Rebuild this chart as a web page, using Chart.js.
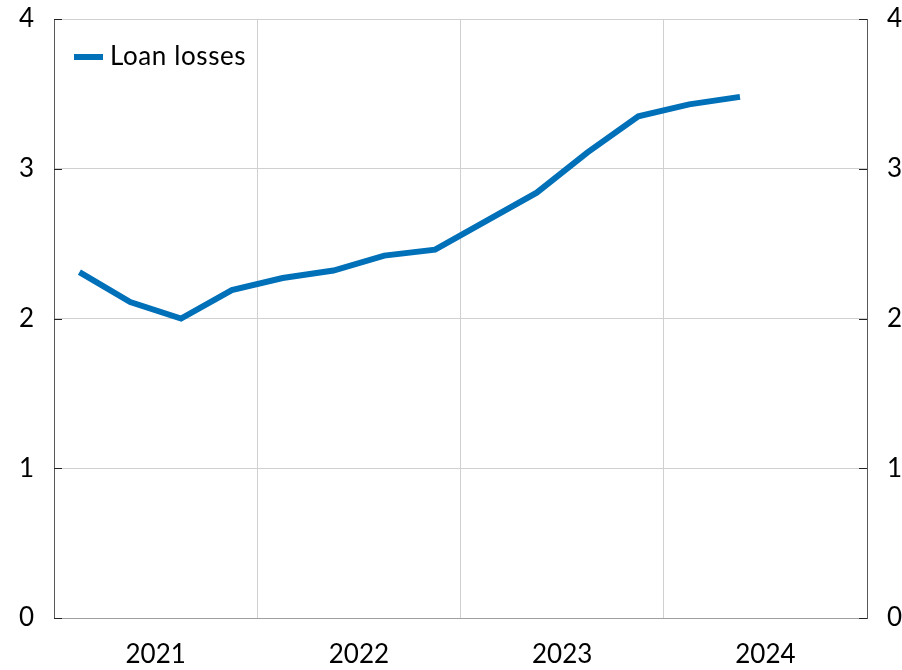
<!DOCTYPE html>
<html>
<head>
<meta charset="utf-8">
<script src="https://cdn.jsdelivr.net/npm/chart.js@4"></script>
<style>
html,body{margin:0;padding:0;background:#fff;}
#wrap{width:902px;height:670px;}
</style>
</head>
<body>
<div id="wrap"><canvas id="c" width="902" height="670"></canvas></div>
<script>
const quarters = ['2021Q1','2021Q2','2021Q3','2021Q4','2022Q1','2022Q2','2022Q3','2022Q4','2023Q1','2023Q2','2023Q3','2023Q4','2024Q1','2024Q2'];
const loanLosses = [2.31, 2.11, 2.00, 2.19, 2.27, 2.32, 2.42, 2.46, 2.65, 2.84, 3.11, 3.35, 3.43, 3.48];
const years = ['2021','2022','2023','2024'];
const yTicks = [0, 1, 2, 3, 4];
const seriesLabel = 'Loan losses';
const BLUE = '#0070B8';
const FONT = 'Lato, "Open Sans", sans-serif';

// x position of a quarter: years * 4 quarters, centred in its quarter slot
const firstYear = parseInt(years[0], 10);
function qPos(q){ const y = parseInt(q.slice(0,4),10); const n = parseInt(q.slice(5),10); return (y-firstYear)*4 + (n-1) + 0.5; }
const points = quarters.map((q,i)=>({x:qPos(q), y:loanLosses[i]}));

const innerTicks = {
  id:'innerTicks',
  afterDraw(chart){
    const ctx = chart.ctx, a = chart.chartArea, ys = chart.scales.y;
    ctx.save();
    ctx.strokeStyle = '#222'; ctx.lineWidth = 1;
    yTicks.forEach(v=>{
      const p = Math.round(ys.getPixelForValue(v)) + 0.5;
      ctx.beginPath(); ctx.moveTo(a.left, p); ctx.lineTo(a.left+8, p); ctx.stroke();
      ctx.beginPath(); ctx.moveTo(a.right, p); ctx.lineTo(a.right-8, p); ctx.stroke();
    });
    // legend inside plot
    chart.data.datasets.forEach(d=>{
      const x0 = a.left + 20, y0 = a.top + 38;
      ctx.strokeStyle = d.borderColor; ctx.lineWidth = 6; ctx.lineCap = 'butt';
      ctx.beginPath(); ctx.moveTo(x0, y0); ctx.lineTo(x0+29, y0); ctx.stroke();
      ctx.fillStyle = '#000'; ctx.font = '26px ' + FONT; ctx.textBaseline = 'middle'; ctx.textAlign = 'left';
      if ('letterSpacing' in ctx) ctx.letterSpacing = '0.6px';
      ctx.fillText(d.label, x0+36, y0);
    });
    ctx.restore();
  }
};

function fixV(width){
  return function(scale){ scale.width = width; scale.paddingTop = 0; scale.paddingBottom = 0; };
}

new Chart(document.getElementById('c'), {
  type:'line',
  data:{
    datasets:[{
      label: seriesLabel,
      data: points,
      borderColor: BLUE,
      backgroundColor: BLUE,
      borderWidth: 6,
      pointRadius: 0,
      tension: 0,
      fill: false
    }]
  },
  options:{
    responsive:false,
    animation:false,
    layout:{padding:{left:0, right:0, top:19, bottom:0}},
    plugins:{
      tooltip:{enabled:false},
      legend:{display:false}
    },
    scales:{
      x:{
        type:'linear',
        min:0, max: years.length*4,
        afterFit(scale){ scale.height = 52; scale.paddingLeft = 0; scale.paddingRight = 0; },
        ticks:{
          stepSize:2,
          autoSkip:false,
          maxRotation:0,
          padding:24,
          color:'#000',
          font:{family:FONT, size:26, lineHeight:1},
          callback(v){ return (v % 4 === 2) ? years[(v-2)/4] : ''; }
        },
        grid:{
          drawTicks:false,
          tickLength:0,
          color(ctx){ const v = ctx.tick && ctx.tick.value; return (v>0 && v < years.length*4 && v % 4 === 0) ? '#d0d0d0' : 'rgba(0,0,0,0)'; },
          lineWidth:1
        },
        border:{display:true, color:'#a0a0a0', width:1}
      },
      y:{
        position:'left',
        min:0, max:4,
        afterFit: fixV(54),
        ticks:{stepSize:1, padding:20, color:'#000', font:{family:FONT, size:26}},
        grid:{drawTicks:false, tickLength:0, color:'#d0d0d0', lineWidth:1},
        border:{display:true, color:'#595959', width:1}
      },
      y2:{
        position:'right',
        min:0, max:4,
        afterFit: fixV(35),
        ticks:{stepSize:1, padding:20, color:'#000', font:{family:FONT, size:26}},
        grid:{display:false, drawTicks:false, tickLength:0},
        border:{display:true, color:'#595959', width:1}
      }
    }
  },
  plugins:[innerTicks]
});
</script>
</body>
</html>
